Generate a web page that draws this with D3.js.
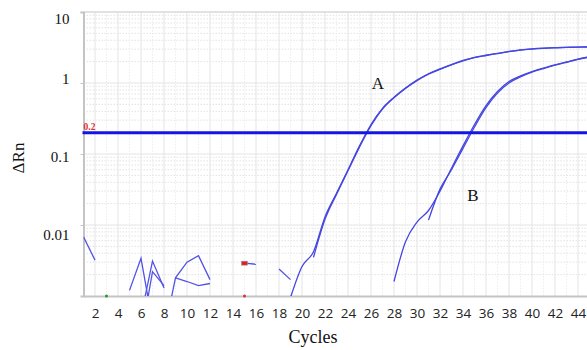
<!DOCTYPE html>
<html><head><meta charset="utf-8">
<script src="https://cdn.jsdelivr.net/npm/d3@7"></script>
<style>body{margin:0;background:#fff}svg{display:block}</style>
</head><body>
<svg id="c" width="587" height="350"></svg>
<script>
const xTicks = [2,4,6,8,10,12,14,16,18,20,22,24,26,28,30,32,34,36,38,40,42,44];
const yTicks = [10,1,0.1,0.01];
const yTickLabels = ["10","1","0.1","0.01"];
const threshold = 0.2;

const cyclesA1 = [19,20,21,22,23,24,25,26,27,28,29,30,31,32,33,34,35,36,37,38,39,40,41,42,43,44,45];
const valuesA1 = [0.00095,0.0026,0.0042,0.013,0.028,0.060,0.13,0.26,0.44,0.63,0.85,1.1,1.35,1.58,1.82,2.08,2.3,2.46,2.62,2.78,2.92,3.02,3.09,3.14,3.18,3.21,3.23];
const cyclesA2 = [21,22,23,24,25,26,27,28,29,30,31,32,33,34,35,36,37,38,39,40,41,42,43,44,45];
const valuesA2 = [0.0035,0.012,0.027,0.058,0.125,0.25,0.43,0.62,0.84,1.08,1.33,1.56,1.8,2.05,2.27,2.44,2.6,2.76,2.9,3.0,3.08,3.13,3.17,3.2,3.22];
const cyclesB1 = [28,29,30,31,32,33,34,35,36,37,38,39,40,41,42,43,44,45];
const valuesB1 = [0.0016,0.0058,0.011,0.016,0.030,0.063,0.13,0.26,0.48,0.76,1.05,1.26,1.45,1.62,1.8,1.98,2.17,2.34];
const cyclesB2 = [31,32,33,34,35,36,37,38,39,40,41,42,43,44,45];
const valuesB2 = [0.0117,0.032,0.060,0.12,0.24,0.45,0.72,1.0,1.22,1.42,1.6,1.78,1.96,2.15,2.32];

const noise = [
  {c:[1,2], v:[0.0068,0.0032]},
  {c:[5,6,7], v:[0.0012,0.0034,0.00042]},
  {c:[6,7,8], v:[0.00052,0.0031,0.0013]},
  {c:[6,7,8], v:[0.00026,0.0022,0.0014]},
  {c:[8,9,10,11,12], v:[0.0003,0.0018,0.0030,0.0037,0.0017]},
  {c:[9,10,11,12], v:[0.0018,0.0016,0.0014,0.0015]},
  {c:[15,16], v:[0.0029,0.0028]},
  {c:[18,19], v:[0.0024,0.0017]}
];
const markerCycle = 15, markerValue = 0.0029;
const dotsCycles = [3,15];
const dotsColors = ["#2a9a2a","#e03030"];

const svg = d3.select("#c");
const L = 83.5, T = 12, B = 296, R = 589.5;
const x = d3.scaleLinear().domain([1,45]).range([L,R]);
const y = d3.scaleLog().domain([0.001,10]).range([B,T]);

svg.append("defs").append("clipPath").attr("id","clip")
  .append("rect").attr("x",L).attr("y",T).attr("width",R-L).attr("height",B-T);

// grid
const g = svg.append("g");
const minors = [];
[0.001,0.01,0.1,1].forEach(d=>{for(let k=2;k<=9;k++) minors.push(d*k);});
g.selectAll(".hm").data(minors).join("line")
  .attr("x1",L).attr("x2",587).attr("y1",d=>y(d)).attr("y2",d=>y(d))
  .attr("stroke","#e2e2e2").attr("stroke-dasharray","1.5,1.5");
g.selectAll(".hM").data([0.01,0.1,1]).join("line")
  .attr("x1",L).attr("x2",587).attr("y1",d=>y(d)).attr("y2",d=>y(d))
  .attr("stroke","#e4e4e4");
const oddC = d3.range(1,46,2);
g.selectAll(".vm").data(oddC).join("line")
  .attr("x1",d=>x(d)).attr("x2",d=>x(d)).attr("y1",T).attr("y2",B)
  .attr("stroke","#ededed").attr("stroke-dasharray","1.5,1.5");
g.selectAll(".vM").data(xTicks).join("line")
  .attr("x1",d=>x(d)).attr("x2",d=>x(d)).attr("y1",T).attr("y2",B)
  .attr("stroke","#e4e4e4");
// top border
svg.append("line").attr("x1",L).attr("x2",587).attr("y1",T).attr("y2",T)
  .attr("stroke","#d8d8d8").attr("stroke-width",1.5);

// axes
const yLabelNudge = [6,-5,2,9];
const yAxis = d3.axisLeft(y).tickValues(yTicks).tickFormat((d,i)=>yTickLabels[i]).tickSize(3);
const ya = svg.append("g").attr("transform",`translate(${L},0)`).call(yAxis);
ya.select(".domain").attr("stroke","#c4c4c4").attr("stroke-width",2);
ya.selectAll(".tick line").attr("stroke","#c4c4c4");
ya.selectAll(".tick text").attr("font-family","Liberation Serif").attr("font-size",15)
  .attr("fill","#111").attr("x",-14).attr("dy","0.35em")
  .attr("y",(d,i)=>yLabelNudge[i]);

const xAxis = d3.axisBottom(x).tickValues(xTicks).tickSize(0).tickPadding(12);
const xa = svg.append("g").attr("transform",`translate(0,${B})`).call(xAxis);
xa.select(".domain").attr("stroke","#c4c4c4").attr("stroke-width",2);
xa.selectAll(".tick text").attr("font-family","Open Sans").attr("font-size",13.5).attr("fill","#222");

// titles
svg.append("text").attr("x",313).attr("y",343).attr("text-anchor","middle")
  .attr("font-family","Liberation Serif").attr("font-size",18).attr("fill","#111").text("Cycles");
svg.append("text").attr("transform","translate(24,158) rotate(-90)").attr("text-anchor","middle")
  .attr("font-family","Liberation Serif").attr("font-size",17).attr("fill","#111").text("ΔRn");

// lines
const plot = svg.append("g").attr("clip-path","url(#clip)");
const line = d3.line().x(d=>x(d[0])).y(d=>y(d[1])).curve(d3.curveMonotoneX);
const lineLin = d3.line().x(d=>x(d[0])).y(d=>y(d[1]));
const zip = (c,v)=>c.map((k,i)=>[k,v[i]]);
noise.forEach(n=>{
  plot.append("path").attr("d",lineLin(zip(n.c,n.v))).attr("fill","none")
    .attr("stroke","#5252e6").attr("stroke-width",1.3);
});
[[cyclesA1,valuesA1],[cyclesA2,valuesA2],[cyclesB1,valuesB1],[cyclesB2,valuesB2]].forEach(([c,v])=>{
  plot.append("path").attr("d",line(zip(c,v))).attr("fill","none")
    .attr("stroke","#4646e0").attr("stroke-width",1.3);
});

// threshold
svg.append("line").attr("x1",L-1).attr("x2",587).attr("y1",y(threshold)).attr("y2",y(threshold))
  .attr("stroke","#1414e6").attr("stroke-width",3);
svg.append("text").attr("x",L).attr("y",y(threshold)-3).attr("font-family","Liberation Serif")
  .attr("font-size",9.5).attr("font-weight","bold").attr("fill","#e03030").text("0.2");

// markers
svg.append("rect").attr("x",x(markerCycle)-3).attr("y",y(markerValue)-2).attr("width",6).attr("height",4)
  .attr("fill","#e02020").attr("stroke","#999").attr("stroke-width",0.6);
svg.selectAll(".dot").data(dotsCycles).join("circle").attr("cx",d=>x(d)).attr("cy",B)
  .attr("r",1.5).attr("fill",(d,i)=>dotsColors[i]);

// labels
svg.append("text").attr("x",378).attr("y",89).attr("text-anchor","middle")
  .attr("font-family","Liberation Serif").attr("font-size",17).attr("fill","#111").text("A");
svg.append("text").attr("x",473).attr("y",201).attr("text-anchor","middle")
  .attr("font-family","Liberation Serif").attr("font-size",17).attr("fill","#111").text("B");
</script>
</body></html>
